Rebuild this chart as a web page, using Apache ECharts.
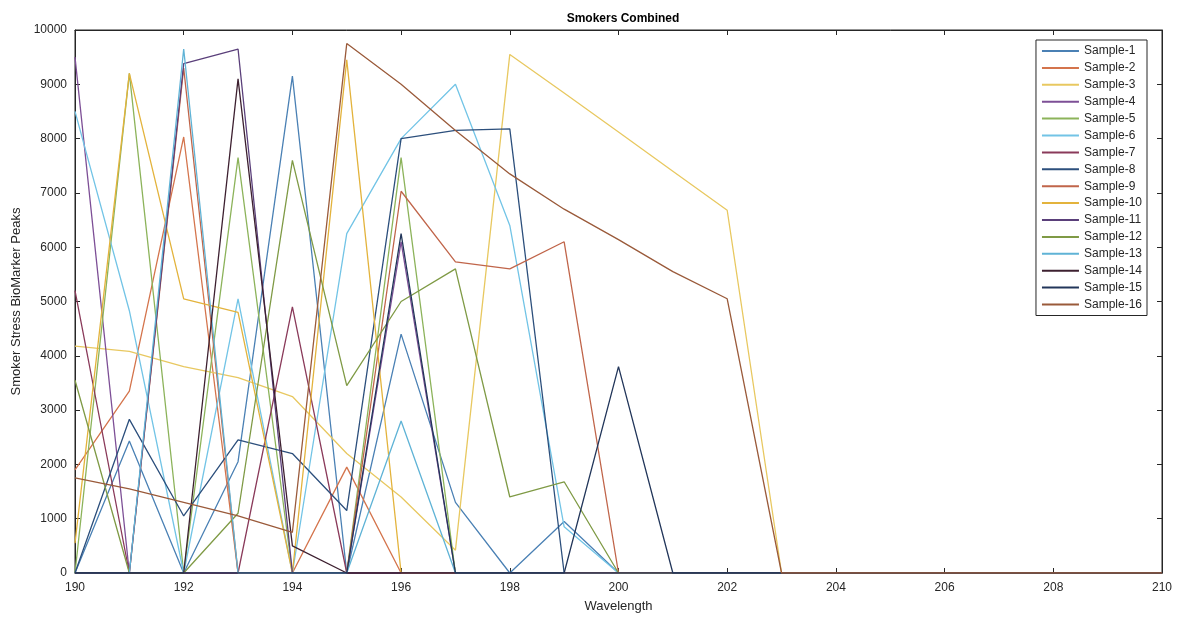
<!DOCTYPE html>
<html><head><meta charset="utf-8">
<script src="https://cdn.jsdelivr.net/npm/echarts@6/dist/echarts.min.js"></script>
<style>html,body{margin:0;padding:0;background:#fff}#c{width:1187px;height:618px}</style>
</head><body><div id="c"></div>
<script>
const wavelengths = [190,191,192,193,194,195,196,197,198,199,200,201,202,203,204,205,206,207,208,209,210];
const names = ['Sample-1','Sample-2','Sample-3','Sample-4','Sample-5','Sample-6','Sample-7','Sample-8','Sample-9','Sample-10','Sample-11','Sample-12','Sample-13','Sample-14','Sample-15','Sample-16'];
const colors = ['#4a80b4','#d4744c','#e8c860','#7d4f96','#8cb35a','#72c4e6','#8a3a5a','#2c4f7c','#c0654a','#e3b33c','#5a3f7a','#7f9a45','#5fb3d6','#3d2030','#22365a','#9a5a3a'];
const s1  = [0,2430,0,2050,9150,0,4400,1300,0,950,0,0,0,0,0,0,0,0,0,0,0];
const s2  = [1900,3350,8030,0,0,1950,0,0,0,0,0,0,0,0,0,0,0,0,0,0,0];
const s3  = [4180,4080,3800,3600,3250,2200,1400,420,9550,8840,8120,7400,6680,0,0,0,0,0,0,0,0];
const s4  = [9500,0,0,0,0,0,6100,0,0,0,0,0,0,0,0,0,0,0,0,0,0];
const s5  = [0,9200,0,7650,0,0,7650,0,0,0,0,0,0,0,0,0,0,0,0,0,0];
const s6  = [8500,4830,0,5050,0,6250,8000,9000,6400,850,0,0,0,0,0,0,0,0,0,0,0];
const s7  = [5200,0,0,0,4900,0,0,0,0,0,0,0,0,0,0,0,0,0,0,0,0];
const s8  = [0,2830,1050,2450,2200,1150,8000,8150,8180,0,0,0,0,0,0,0,0,0,0,0,0];
const s9  = [0,0,9300,0,0,0,7030,5730,5600,6100,0,0,0,0,0,0,0,0,0,0,0];
const s10 = [550,9200,5050,4800,0,9450,0,0,0,0,0,0,0,0,0,0,0,0,0,0,0];
const s11 = [0,0,9380,9650,0,0,0,0,0,0,0,0,0,0,0,0,0,0,0,0,0];
const s12 = [3550,0,0,1100,7600,3450,5000,5600,1400,1680,0,0,0,0,0,0,0,0,0,0,0];
const s13 = [0,0,9650,0,0,0,2800,0,0,0,0,0,0,0,0,0,0,0,0,0,0];
const s14 = [0,0,0,9100,500,0,0,0,0,0,0,0,0,0,0,0,0,0,0,0,0];
const s15 = [0,0,0,0,0,0,6250,0,0,0,3800,0,0,0,0,0,0,0,0,0,0];
const s16 = [1750,1550,1300,1050,750,9750,9000,8150,7350,6700,6140,5550,5050,0,0,0,0,0,0,0,0];
const allSeries = [s1,s2,s3,s4,s5,s6,s7,s8,s9,s10,s11,s12,s13,s14,s15,s16];

const chart = echarts.init(document.getElementById('c'), null, {renderer:'canvas'});
const font = 'Liberation Sans, Arial, sans-serif';
const tickStyle = {show:true, inside:true, length:5, lineStyle:{color:'#262626', width:1}};
chart.setOption({
  animation:false,
  backgroundColor:'#ffffff',
  title:{text:'Smokers Combined', left:618, top:8, textAlign:'center',
    textStyle:{fontFamily:font, fontSize:12, fontWeight:'bold', color:'#000'}},
  grid:{left:75, right:25, top:30, bottom:44, show:true, borderColor:'#262626', borderWidth:1, backgroundColor:'#fff'},
  legend:{orient:'vertical', right:40, top:40, itemWidth:37, itemHeight:14, itemGap:2.9,
    padding:[4,5,4,5], backgroundColor:'#fff', borderColor:'#262626', borderWidth:1, borderRadius:0,
    itemStyle:{opacity:0},
    textStyle:{fontFamily:font, fontSize:12, color:'#262626', padding:[0,0,0,0], lineHeight:14}, data:names},
  xAxis:[
    {type:'value', min:190, max:210, interval:2, name:'Wavelength', nameLocation:'middle', nameGap:27,
     nameTextStyle:{fontFamily:font, fontSize:13, color:'#262626'},
     axisLine:{show:true, onZero:false, lineStyle:{color:'#262626'}}, axisTick:tickStyle,
     axisLabel:{fontFamily:font, fontSize:12, color:'#262626', margin:9}, splitLine:{show:false}},
    {type:'value', position:'top', min:190, max:210, interval:2,
     axisLine:{show:true, onZero:false, lineStyle:{color:'#262626'}}, axisTick:tickStyle,
     axisLabel:{show:false}, splitLine:{show:false}}
  ],
  yAxis:[
    {type:'value', min:0, max:10000, interval:1000, name:'Smoker Stress BioMarker Peaks', nameLocation:'middle', nameGap:47,
     nameTextStyle:{fontFamily:font, fontSize:13, color:'#262626'},
     axisLine:{show:true, lineStyle:{color:'#262626'}}, axisTick:tickStyle,
     axisLabel:{fontFamily:font, fontSize:12, color:'#262626', margin:8, formatter:(v)=>String(v)}, splitLine:{show:false}},
    {type:'value', position:'right', min:0, max:10000, interval:1000,
     axisLine:{show:true, lineStyle:{color:'#262626'}}, axisTick:tickStyle,
     axisLabel:{show:false}, splitLine:{show:false}}
  ],
  series: allSeries.map((vals,i)=>({
    name:names[i], type:'line', symbol:'none', xAxisIndex:0, yAxisIndex:0,
    color:colors[i], lineStyle:{width:1.3, color:colors[i]},
    data: wavelengths.map((w,j)=>[w, vals[j]])
  }))
});
</script></body></html>
